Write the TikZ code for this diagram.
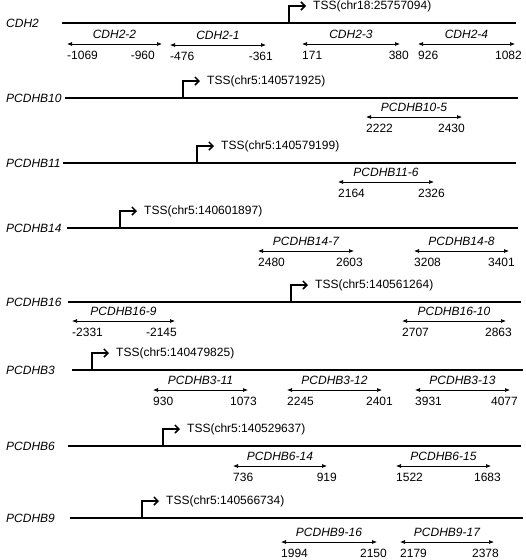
\documentclass[tikz,border=0pt]{standalone}
\usepackage{fontspec}
\setmainfont{Liberation Sans}
\usepackage{tikz}
\usetikzlibrary{arrows.meta,positioning}

\newcommand{\generow}[7]{%
  \coordinate (#1s) at (#4,#3);
  \coordinate (#1e) at (#5,#3);
  \coordinate (#1t) at (#6,#3);
  \coordinate (#1k) at (#6,#3-17);
  \coordinate (#1h) at (#6+17,#3-17);
  \node[gene] (#1name) at (6,#3) {#2};
  \draw[chrom] (#1s) -- (#1e);
  \draw[tss] (#1t) -- (#1k) -- (#1h);
  \node[tsslab, right=6pt of #1h] (#1tss) {#7};
}
\newcommand{\primer}[8][7]{%
  \coordinate (#2l) at (#4,#3);
  \coordinate (#2r) at (#5,#3);
  \draw[amp] (#2l) -- (#2r) node[amplab, midway, yshift=10pt] (#2name) {#6};
  \node[num, anchor=west, yshift=-11pt] (#2from) at (#2l) {#7};
  \node[num, anchor=east, xshift=#1pt, yshift=-11pt] (#2to) at (#2r) {#8};
}

\begin{document}
\begin{tikzpicture}[
    x=1pt, y=-1pt,
    gene/.style={font=\fontsize{12}{14}\selectfont\itshape, inner sep=0pt, anchor=west},
    chrom/.style={line width=1.5pt},
    tss/.style={line width=1.5pt, -{Straight Barb[length=4pt,width=8pt]}},
    tsslab/.style={font=\fontsize{12}{14}\selectfont, inner sep=1pt},
    amp/.style={line width=0.7pt, {Latex[length=5pt,width=4pt]}-{Latex[length=5pt,width=4pt]}},
    amplab/.style={font=\fontsize{12}{14}\selectfont\itshape, inner sep=0pt},
    num/.style={font=\fontsize{12}{14}\selectfont, inner sep=0pt}
]
\useasboundingbox (0,0) rectangle (526,560);

\generow{cdh2}{CDH2}{23}{62}{516}{289}{TSS(chr18:25757094)}
\generow{b10}{PCDHB10}{98}{65}{518}{183}{TSS(chr5:140571925)}
\generow{b11}{PCDHB11}{163}{63}{516}{197}{TSS(chr5:140579199)}
\generow{b14}{PCDHB14}{228}{67}{518}{120}{TSS(chr5:140601897)}
\generow{b16}{PCDHB16}{302}{68}{521}{291}{TSS(chr5:140561264)}
\generow{b3}{PCDHB3}{370}{72}{523}{92}{TSS(chr5:140479825)}
\generow{b6}{PCDHB6}{446}{68}{521}{163}{TSS(chr5:140529637)}
\generow{b9}{PCDHB9}{518}{70}{523}{142}{TSS(chr5:140566734)}

\primer[-7]{p2}{44}{67}{162}{CDH2-2}{-1069}{-960}
\primer{p1}{45}{170}{266}{CDH2-1}{-476}{-361}
\primer[9]{p3}{44}{302}{400}{CDH2-3}{171}{380}
\primer{p4}{44}{418}{515}{CDH2-4}{926}{1082}
\primer[3]{p5}{117}{366}{462}{PCDHB10-5}{2222}{2430}
\primer[11]{p6}{182}{338}{434}{PCDHB11-6}{2164}{2326}
\primer[9]{p7}{251}{258}{354}{PCDHB14-7}{2480}{2603}
\primer[6]{p8}{251}{414}{509}{PCDHB14-8}{3208}{3401}
\primer[2]{p9}{321}{72}{175}{PCDHB16-9}{-2331}{-2145}
\primer[6]{p10}{321}{402}{506}{PCDHB16-10}{2707}{2863}
\primer[9]{p11}{390}{153}{248}{PCDHB3-11}{930}{1073}
\primer[11]{p12}{390}{287}{382}{PCDHB3-12}{2245}{2401}
\primer[8]{p13}{390}{415}{510}{PCDHB3-13}{3931}{4077}
\primer[10]{p14}{466}{233}{327}{PCDHB6-14}{736}{919}
\primer[10]{p15}{466}{396}{491}{PCDHB6-15}{1522}{1683}
\primer[10]{p16}{542}{281}{377}{PCDHB9-16}{1994}{2150}
\primer[5]{p17}{542}{400}{494}{PCDHB9-17}{2179}{2378}
\end{tikzpicture}
\end{document}
